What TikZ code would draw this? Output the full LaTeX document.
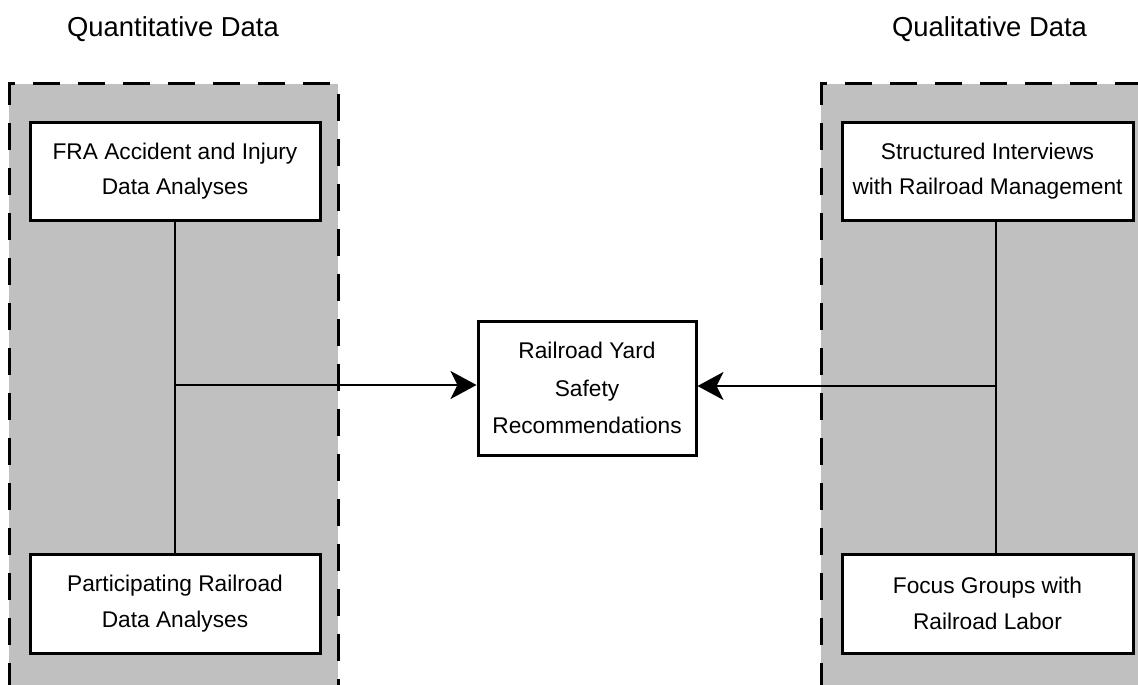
\documentclass[tikz,border=0pt]{standalone}
\usepackage{fontspec}
\setmainfont{Liberation Sans}
\usetikzlibrary{arrows.meta}
\definecolor{panelgrey}{RGB}{192,192,192}
\tikzset{
  panel/.style={fill=panelgrey, draw=none},
  panelborder/.style={line width=3pt, dash pattern=on 27pt off 18pt},
  box/.style={draw, fill=white, line width=3pt, align=center, inner sep=0pt,
    font=\fontsize{22.7}{35.5}\selectfont},
  title/.style={font=\fontsize{27.4}{32}\selectfont, inner sep=0pt, anchor=base},
  link/.style={line width=2.6pt},
  arrowlink/.style={line width=2.6pt, -{Stealth[length=26pt, width=28pt, inset=7pt]}}
}
\begin{document}
\begin{tikzpicture}[x=1pt, y=-1pt]
\useasboundingbox (0,0) rectangle (1138,685);
% panels
\fill[panel] (9,84) rectangle (338,690);
\fill[panel] (821,84) rectangle (1145,690);
\draw[panelborder] (9,690) -- (9,84) -- (338,84) -- (338,690);
\draw[panelborder] (821,690) -- (821,84) -- (1145,84);
% titles
\node[title] (tq) at (173,37) {Quantitative Data};
\node[title] (tl) at (989.5,37) {Qualitative Data};
% boxes
\node[box, minimum width=290pt, minimum height=98pt] (fra) at (175,171)
  {FRA Accident and Injury\\Data Analyses};
\node[box, minimum width=290pt, minimum height=99pt] (part) at (175,603.5)
  {Participating Railroad\\Data Analyses};
\node[box, minimum width=291pt, minimum height=98pt] (intv) at (987.5,171)
  {Structured Interviews\\with Railroad Management};
\node[box, minimum width=291pt, minimum height=99pt] (focus) at (987.5,603.5)
  {Focus Groups with\\Railroad Labor};
\node[box, minimum width=218pt, minimum height=134pt,
  font=\fontsize{22.7}{37.5}\selectfont] (rec) at (587,388)
  {Railroad Yard\\Safety\\Recommendations};
% connectors
\coordinate (jl) at (175,385);
\coordinate (jr) at (996,386);
\draw[link] (fra.south -| jl) -- (part.north -| jl);
\draw[link] (intv.south -| jr) -- (focus.north -| jr);
\draw[arrowlink] (jl) -- (rec.west |- jl);
\draw[arrowlink] (jr) -- (rec.east |- jr);
\end{tikzpicture}
\end{document}
